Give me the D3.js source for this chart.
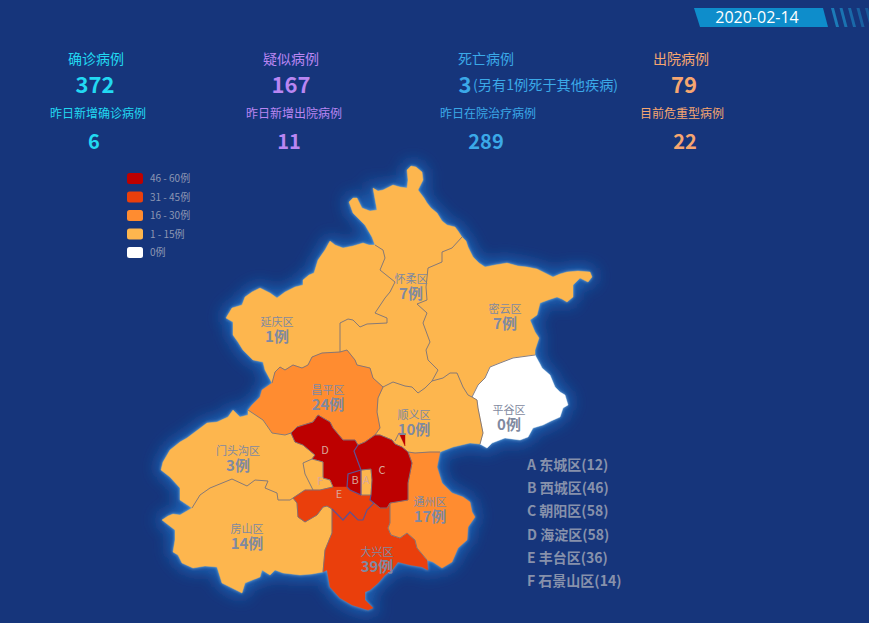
<!DOCTYPE html>
<html>
<head>
<meta charset="utf-8">
<script src="https://d3js.org/d3.v7.min.js"></script>
<title>北京市新型肺炎疫情地图</title>
<style>
html, body { margin: 0; padding: 0; background: #16357b; overflow: hidden; }
text { font-family: "Noto Sans CJK SC", "Noto Sans", sans-serif; }
</style>
</head>
<body>
<div id="chart"></div>
<script>
var dateLabel = "2020-02-14";

// summary numbers
var topLabels = ["确诊病例", "疑似病例", "死亡病例", "出院病例"];
var topValues = ["372", "167", "3", "79"];
var subLabels = ["昨日新增确诊病例", "昨日新增出院病例", "昨日在院治疗病例", "目前危重型病例"];
var subValues = ["6", "11", "289", "22"];
var statColors = ["#22d9f2", "#b986f2", "#3ba9e8", "#f6a670"];
var deathNote = "(另有1例死于其他疾病)";

// legend, high to low
var legendLabels = ["46 - 60例", "31 - 45例", "16 - 30例", "1 - 15例", "0例"];
var binStarts = [1, 16, 31, 46];
var binColors = ["#ffffff", "#fdb64e", "#ff8c30", "#ea3f0c", "#bd0000"];

// district boundaries, in map units, one array per shared edge
var oYq = [[375,245],[369,245],[363,243],[353,246],[343,248],[335,245],[330,241],[325,250],[318,260],[314,273],[309,275],[303,280],[303,285],[295,287],[285,292],[277,298],[270,293],[260,288],[252,292],[245,297],[242,305],[232,308],[226,318],[233,322],[233,335],[238,342],[243,350],[253,360],[263,362],[265,370],[272,383]];
var oHr = [[375,245],[372,237],[365,225],[353,213],[349,202],[353,198],[357,198],[362,208],[370,211],[377,210],[373,188],[378,191],[383,190],[393,185],[400,187],[407,188],[408,180],[407,170],[411,166],[416,167],[422,172],[423,180],[420,186],[418,190],[424,198],[427,203],[431,208],[437,213],[442,221],[447,225],[455,227],[458,231],[462,237]];
var oMy = [[462,237],[466,241],[468,247],[473,257],[479,263],[485,267],[495,265],[507,263],[518,266],[527,267],[537,269],[543,272],[553,277],[560,274],[567,272],[578,271],[590,272],[592,277],[588,282],[580,278],[575,283],[573,285],[573,297],[567,302],[562,299],[557,297],[548,300],[540,303],[537,315],[530,320],[535,332],[539,338],[535,350],[535,355]];
var oPg = [[535,355],[540,364],[542,368],[550,375],[555,387],[560,392],[565,395],[568,405],[563,408],[560,417],[551,421],[543,425],[533,428],[528,437],[520,440],[505,438],[492,443],[487,448],[480,444]];
var oSy = [[480,444],[470,443],[453,447],[440,452]];
var oTz = [[440,452],[437,467],[442,483],[452,493],[463,497],[470,502],[472,512],[475,517],[468,527],[467,540],[458,548],[452,562],[442,568],[433,562],[427,560]];
var oDx = [[427,560],[428,570],[422,567],[410,565],[398,562],[392,570],[385,575],[378,583],[370,590],[365,592],[365,600],[373,608],[368,610],[352,605],[340,598],[330,587],[327,570],[323,572]];
var oFs = [[323,572],[312,574],[300,575],[283,573],[275,570],[270,575],[262,570],[260,577],[245,583],[242,593],[232,588],[222,583],[217,567],[205,566],[193,568],[182,563],[178,555],[173,552],[175,540],[175,530],[162,520],[168,516],[173,514],[180,515],[192,508]];
var oMt = [[192,508],[180,500],[180,488],[170,477],[161,470],[163,462],[170,450],[180,442],[187,438],[195,432],[207,423],[217,422],[228,417],[233,410],[240,417],[248,415],[248,410]];
var oCp = [[272,383],[262,390],[260,397],[252,405],[248,410]];

var cpYq = [[272,383],[275,372],[280,367],[285,370],[293,365],[302,368],[308,365],[312,357],[322,353],[340,352]];
var yqHr = [[340,352],[340,323],[348,319],[353,320],[360,327],[367,324],[387,323],[387,318],[375,313],[385,298],[390,292],[395,282],[380,270],[385,258],[383,250],[375,245]];
var hrMy = [[462,237],[452,248],[442,252],[442,262],[428,268],[426,287],[427,300],[417,304],[427,313],[423,323],[430,342],[426,350],[428,360],[438,370],[432,381]];
var cpHr = [[340,352],[347,350],[355,360],[357,365],[370,368],[373,378],[383,387]];
var hrSy = [[383,387],[393,382],[405,386],[412,387],[418,393],[425,388],[432,381]];
var mySy = [[432,381],[443,378],[450,373],[457,373],[463,387],[468,395],[472,397]];
var myPg = [[535,355],[513,358],[500,363],[490,367],[485,378],[478,385],[472,397]];
var pgSy = [[472,397],[477,400],[478,408],[480,418],[483,433],[480,444]];
var cpSy = [[383,387],[378,398],[377,412],[380,428],[375,435]];
var cySy = [[375,435],[380,435],[392,440],[395,444],[402,447],[408,452]];
var sySz = [[408,452],[415,453],[430,452],[440,452]];
var cyTz = [[390,503],[408,500],[408,483],[412,463],[408,452]];
var dxTz = [[390,503],[390,523],[388,528],[391,535],[400,538],[407,533],[415,540],[417,548],[427,560]];
var cyDx = [[374,503],[380,508],[387,508],[390,503]];
var ftDx = [[374,503],[367,510],[363,520],[358,520],[350,512],[343,520],[335,512],[332,509]];
var ftFs = [[332,509],[327,506],[323,507],[317,515],[305,522],[298,517],[297,503],[293,498]];
var fsDx = [[332,509],[332,533],[325,550],[323,572]];
var mtFs = [[293,498],[290,500],[278,500],[277,493],[265,488],[268,481],[255,480],[247,486],[232,479],[210,488],[200,495],[192,508]];
var ftMt = [[293,498],[305,490],[313,490]];
var ftSj = [[313,490],[320,490],[333,487]];
var ftHd = [[333,487],[338,487],[347,487]];
var ftXc = [[347,487],[350,490],[361,495]];
var ftDc = [[361,495],[371,495]];
var ftCy = [[371,495],[370,500],[374,503]];
var sjMt = [[313,490],[305,474],[303,463],[312,459]];
var sjHd = [[312,459],[323,462],[323,478],[330,480],[333,487]];
var mtHd = [[291,433],[295,442],[303,445],[315,455],[312,459]];
var cpMt = [[248,410],[263,420],[272,433],[285,435],[291,433]];
var cpHd = [[291,433],[297,427],[313,422],[318,415],[323,418],[330,422],[333,428],[343,440],[355,440],[358,445]];
var cpCy = [[358,445],[365,442],[375,435]];
var hdCy = [[358,445],[354,451],[358,462],[361,470]];
var hdXc = [[361,470],[348,474],[347,487]];
var xcDc = [[361,470],[361,495]];
var dcCy = [[361,470],[371,469],[372,480],[371,495]];
var cyEnclave = [[399,433],[405,435],[405,446],[402,442]];
var cyEnclaveLine = [[395,441],[399,433]];

function rev(a) { return a.slice().reverse(); }

var districts = ["延庆区", "怀柔区", "密云区", "平谷区", "顺义区", "昌平区", "门头沟区", "房山区", "大兴区", "通州区", "海淀区", "石景山区", "丰台区", "西城区", "东城区", "朝阳区"];
var counts = [1, 7, 7, 0, 10, 24, 3, 14, 39, 17, 58, 14, 36, 46, 12, 58];
var rings = [
  [oYq, cpYq, yqHr],
  [oHr, hrMy, rev(hrSy), rev(cpHr), yqHr],
  [oMy, myPg, rev(mySy), rev(hrMy)],
  [oPg, rev(pgSy), rev(myPg)],
  [mySy, pgSy, oSy, rev(sySz), rev(cySy), rev(cpSy), hrSy],
  [oCp, cpMt, cpHd, cpCy, rev(cpSy), rev(cpHr), rev(cpYq)],
  [oMt, cpMt, mtHd, rev(sjMt), rev(ftMt), mtFs],
  [oFs, rev(mtFs), rev(ftFs), fsDx],
  [oDx, rev(fsDx), rev(ftDx), cyDx, dxTz],
  [oTz, rev(dxTz), cyTz, sySz],
  [cpHd, hdCy, hdXc, rev(ftHd), rev(sjHd), rev(mtHd)],
  [sjMt, sjHd, rev(ftSj)],
  [ftMt, ftSj, ftHd, ftXc, ftDc, ftCy, ftDx, ftFs],
  [hdXc, ftXc, rev(xcDc)],
  [xcDc, ftDc, rev(dcCy)],
  [cySy, rev(cyTz), rev(cyDx), rev(ftCy), rev(dcCy), rev(hdCy), cpCy]
];

// labelled districts
var labelNames = ["延庆区", "怀柔区", "密云区", "昌平区", "顺义区", "平谷区", "门头沟区", "房山区", "通州区", "大兴区"];
var labelAnchors = [[277,329], [411,286], [505,316], [328,397], [414,422], [509,417], [238,458], [247,536], [430,509], [377,559]];
var letterNames = ["A", "B", "C", "D", "E", "F"];
var letterAnchors = [[366,480], [355,480], [382,470], [325,450], [339,494], [320,481]];

// urban district key
var keyLetters = ["A", "B", "C", "D", "E", "F"];
var keyNames = ["东城区", "西城区", "朝阳区", "海淀区", "丰台区", "石景山区"];

var width = 869, height = 623;
var svg = d3.select("#chart").append("svg")
  .attr("width", width).attr("height", height)
  .style("display", "block");

var defs = svg.append("defs");
defs.append("filter").attr("id", "glowWide")
  .attr("x", "-20%").attr("y", "-20%").attr("width", "140%").attr("height", "140%")
  .append("feGaussianBlur").attr("stdDeviation", 8);
defs.append("filter").attr("id", "glowNear")
  .attr("x", "-10%").attr("y", "-10%").attr("width", "120%").attr("height", "120%")
  .append("feGaussianBlur").attr("stdDeviation", 1.6);

var features = districts.map(function (name, i) {
  var coords = [d3.merge(rings[i])];
  return {
    type: "Feature",
    properties: { name: name, count: counts[i] },
    geometry: name === "朝阳区"
      ? { type: "MultiPolygon", coordinates: [[coords[0]], [cyEnclave]] }
      : { type: "Polygon", coordinates: coords }
  };
});
var land = { type: "FeatureCollection", features: features };

var projection = d3.geoIdentity();
var path = d3.geoPath(projection);

var color = d3.scaleThreshold().domain(binStarts).range(binColors);

// glow behind the map
var glow = svg.append("g");
glow.append("g").attr("filter", "url(#glowWide)")
  .selectAll("path").data(features).join("path")
  .attr("d", path).attr("fill", "#1c68bc").attr("stroke", "#1c68bc").attr("stroke-width", 8);
glow.append("g").attr("filter", "url(#glowNear)").attr("opacity", 0.6)
  .selectAll("path").data(features).join("path")
  .attr("d", path).attr("fill", "#9fd4f5").attr("stroke", "#9fd4f5").attr("stroke-width", 1);

svg.append("g").selectAll("path").data(features).join("path")
  .attr("d", path)
  .attr("fill", function (d) { return color(d.properties.count); })
  .attr("stroke", function (d) { return color(d.properties.count); })
  .attr("stroke-width", 0.4);

// inner borders only, the outer edge has none
svg.append("path")
  .datum({ type: "MultiLineString", coordinates: [cpYq, yqHr, hrMy, cpHr, hrSy, mySy, myPg, pgSy, cpSy, cySy, sySz, cyTz, dxTz, cyDx, ftFs, fsDx, mtFs, ftMt, ftSj, sjMt, sjHd, mtHd, cpMt, cpHd, cpCy, dcCy, ftDc, cyEnclaveLine] })
  .attr("d", path).attr("fill", "none").attr("stroke", "#7c7378").attr("stroke-width", 0.9);
svg.append("path")
  .datum({ type: "MultiLineString", coordinates: [hdCy, hdXc, xcDc, ftXc, ftDx, ftCy] })
  .attr("d", path).attr("fill", "none").attr("stroke", "#5f5192").attr("stroke-width", 1.2);

// district labels
var labels = svg.append("g").selectAll("g").data(labelNames).join("g")
  .attr("text-anchor", "middle")
  .attr("fill", "#7f89a0");
labels.append("text")
  .attr("x", function (d, i) { return projection(labelAnchors[i])[0]; })
  .attr("y", function (d, i) { return projection(labelAnchors[i])[1] - 3; })
  .attr("font-size", 11)
  .text(function (d) { return d; });
labels.append("text")
  .attr("x", function (d, i) { return projection(labelAnchors[i])[0]; })
  .attr("y", function (d, i) { return projection(labelAnchors[i])[1] + 13; })
  .attr("font-size", 15).attr("font-weight", "bold")
  .text(function (d) { return counts[districts.indexOf(d)] + "例"; });

svg.append("g").selectAll("text").data(letterNames).join("text")
  .attr("x", function (d, i) { return projection(letterAnchors[i])[0]; })
  .attr("y", function (d, i) { return projection(letterAnchors[i])[1] + 4; })
  .attr("text-anchor", "middle").attr("font-size", 11)
  .attr("fill", "#d8a79a")
  .text(function (d) { return d; });

// key of the urban districts
var keyY = d3.scalePoint().domain(keyLetters).range([465, 581]);
svg.append("g").selectAll("text").data(keyLetters).join("text")
  .attr("x", 527)
  .attr("y", function (d) { return keyY(d) + 5; })
  .attr("font-size", 14).attr("font-weight", "bold")
  .attr("fill", "#8791ab")
  .text(function (d, i) { return d + " " + keyNames[i] + "(" + counts[districts.indexOf(keyNames[i])] + ")"; });

// legend
var legendY = d3.scalePoint().domain(legendLabels).range([173, 247]);
var legend = svg.append("g").selectAll("g").data(legendLabels).join("g")
  .attr("transform", function (d) { return "translate(127," + legendY(d) + ")"; });
legend.append("rect")
  .attr("width", 16).attr("height", 11).attr("rx", 2.5)
  .attr("fill", function (d, i) { return binColors[binColors.length - 1 - i]; });
legend.append("text")
  .attr("x", 23).attr("y", 9)
  .attr("font-size", 10).attr("fill", "#8d97b3")
  .text(function (d) { return d; });

// summary rows
var topX = [96, 291, 486, 681];
var topValueX = [95, 291, 465, 684];
var subX = [98, 294, 488, 682];
var subValueX = [94, 289, 486, 685];

svg.append("g").attr("text-anchor", "middle").selectAll("text").data(topLabels).join("text")
  .attr("x", function (d, i) { return topX[i]; }).attr("y", 64)
  .attr("font-size", 14).attr("fill", function (d, i) { return statColors[i]; })
  .text(function (d) { return d; });
svg.append("g").attr("text-anchor", "middle").selectAll("text").data(topValues).join("text")
  .attr("x", function (d, i) { return topValueX[i]; }).attr("y", 93)
  .attr("font-size", 22).attr("font-weight", "bold").attr("fill", function (d, i) { return statColors[i]; })
  .text(function (d) { return d; });
svg.append("text")
  .attr("x", 473).attr("y", 90)
  .attr("font-size", 14.2).attr("fill", statColors[2])
  .text(deathNote);
svg.append("g").attr("text-anchor", "middle").selectAll("text").data(subLabels).join("text")
  .attr("x", function (d, i) { return subX[i]; }).attr("y", 118)
  .attr("font-size", 12).attr("fill", function (d, i) { return statColors[i]; })
  .text(function (d) { return d; });
svg.append("g").attr("text-anchor", "middle").selectAll("text").data(subValues).join("text")
  .attr("x", function (d, i) { return subValueX[i]; }).attr("y", 149)
  .attr("font-size", 20).attr("font-weight", "bold").attr("fill", function (d, i) { return statColors[i]; })
  .text(function (d) { return d; });

// date badge
svg.append("path").attr("d", "M694,8H823L828,27H700Z").attr("fill", "#0e8dcb");
svg.append("text")
  .attr("x", 757).attr("y", 23).attr("text-anchor", "middle")
  .attr("font-size", 16).attr("fill", "#ffffff")
  .style("font-family", "'Open Sans', sans-serif")
  .text(dateLabel);
svg.append("g").selectAll("path").data(d3.range(5)).join("path")
  .attr("d", function (d) { var x = 831 + d * 8.5; return "M" + x + ",8h3l5,19h-3Z"; })
  .attr("fill", "#1c7fbc")
  .attr("opacity", function (d) { return 0.95 - d * 0.12; });
</script>
</body>
</html>
